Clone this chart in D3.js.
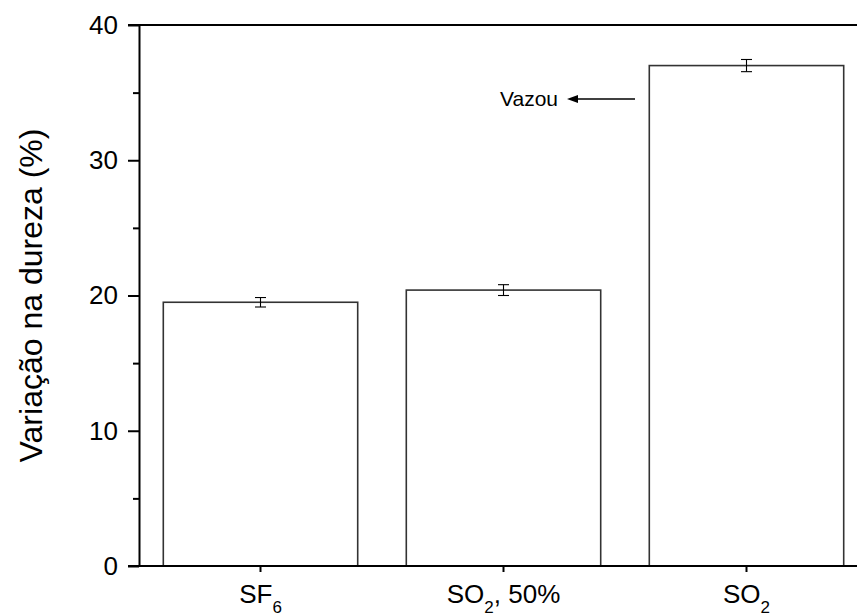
<!DOCTYPE html>
<html>
<head>
<meta charset="utf-8">
<script src="https://cdn.jsdelivr.net/npm/d3@7"></script>
<style>
  body { margin: 0; background: #fff; }
  svg { display: block; font-family: "Liberation Sans", Arial, sans-serif; }
</style>
</head>
<body>
<svg id="chart" width="857" height="616"></svg>
<script>
// Hardness change per gas treatment
const categories = ["SF6", "SO2, 50%", "SO2"];
const labelMain = ["SF", "SO", "SO"];
const labelSub = ["6", "2", "2"];
const labelTail = ["", ", 50%", ""];
const values = [19.5, 20.4, 37.0];
const errors = [0.35, 0.4, 0.45];
const majorTicks = [0, 10, 20, 30, 40];
const minorTicks = [5, 15, 25, 35];
const yTitle = "Variação na dureza (%)";
const noteText = "Vazou";

const svg = d3.select("#chart");
const plotLeft = 139, plotRight = 868, plotTop = 25, plotBottom = 566;

const x = d3.scaleBand().domain(categories).range([plotLeft, plotRight])
  .paddingInner(0.2).paddingOuter(0.1);
const y = d3.scaleLinear().domain([0, 40]).range([plotBottom, plotTop]);

// bars
svg.append("g").selectAll("rect").data(categories).join("rect")
  .attr("x", d => x(d))
  .attr("y", (d, i) => y(values[i]))
  .attr("width", x.bandwidth())
  .attr("height", (d, i) => y(0) - y(values[i]))
  .attr("fill", "#fff")
  .attr("stroke", "#333")
  .attr("stroke-width", 1.6);

// error bars
const eg = svg.append("g").attr("stroke", "#000").attr("stroke-width", 1.1);
categories.forEach((c, i) => {
  const cx = x(c) + x.bandwidth() / 2;
  const y1 = y(values[i] + errors[i]), y2 = y(values[i] - errors[i]);
  eg.append("line").attr("x1", cx).attr("x2", cx).attr("y1", y1).attr("y2", y2);
  eg.append("line").attr("x1", cx - 5.5).attr("x2", cx + 5.5).attr("y1", y1).attr("y2", y1);
  eg.append("line").attr("x1", cx - 5.5).attr("x2", cx + 5.5).attr("y1", y2).attr("y2", y2);
});

// y axis: major ticks with labels
const yAxis = svg.append("g").attr("transform", `translate(${plotLeft},0)`)
  .call(d3.axisLeft(y).tickValues(majorTicks).tickSize(11).tickSizeOuter(0).tickPadding(10));
yAxis.select(".domain").attr("stroke-width", 2);
yAxis.selectAll(".tick line").attr("stroke-width", 2);
yAxis.selectAll(".tick text").attr("font-size", 26).attr("fill", "#000")
  .attr("font-family", "Liberation Sans, Arial, sans-serif");

// y axis: minor ticks
const yMinor = svg.append("g").attr("transform", `translate(${plotLeft},0)`)
  .call(d3.axisLeft(y).tickValues(minorTicks).tickSize(6).tickSizeOuter(0).tickFormat(() => ""));
yMinor.select(".domain").remove();
yMinor.selectAll(".tick line").attr("stroke-width", 2);

// top frame line
svg.append("line").attr("x1", plotLeft - 11).attr("x2", plotRight).attr("y1", plotTop).attr("y2", plotTop)
  .attr("stroke", "#000").attr("stroke-width", 2);

// x axis
const xAxis = svg.append("g").attr("transform", `translate(0,${plotBottom})`)
  .call(d3.axisBottom(x).tickSize(6).tickSizeOuter(0).tickFormat(() => ""));
xAxis.select(".domain").remove();
xAxis.selectAll(".tick line").attr("stroke-width", 2);
svg.append("line").attr("x1", plotLeft - 11).attr("x2", plotRight).attr("y1", plotBottom).attr("y2", plotBottom)
  .attr("stroke", "#000").attr("stroke-width", 2);

// category labels with subscripts
categories.forEach((c, i) => {
  const t = svg.append("text")
    .attr("x", x(c) + x.bandwidth() / 2)
    .attr("y", 603)
    .attr("text-anchor", "middle")
    .attr("font-size", 26)
    .attr("fill", "#000");
  t.append("tspan").text(labelMain[i]);
  t.append("tspan").attr("font-size", 17).attr("dy", 10).text(labelSub[i]);
  if (labelTail[i]) t.append("tspan").attr("dy", -10).text(labelTail[i]);
});

// y title
svg.append("text")
  .attr("transform", `translate(42,${(plotTop + plotBottom) / 2}) rotate(-90)`)
  .attr("text-anchor", "middle")
  .attr("font-size", 32)
  .attr("fill", "#000")
  .text(yTitle);

// annotation with arrow pointing left
const ann = svg.append("g");
ann.append("text").attr("x", 558).attr("y", 106).attr("text-anchor", "end")
  .attr("font-size", 21).attr("fill", "#000").text(noteText);
ann.append("line").attr("x1", 576).attr("x2", 635).attr("y1", 99).attr("y2", 99)
  .attr("stroke", "#000").attr("stroke-width", 1.4);
ann.append("path").attr("d", "M567,99 L578,95 L578,103 Z").attr("fill", "#000");
</script>
</body>
</html>
